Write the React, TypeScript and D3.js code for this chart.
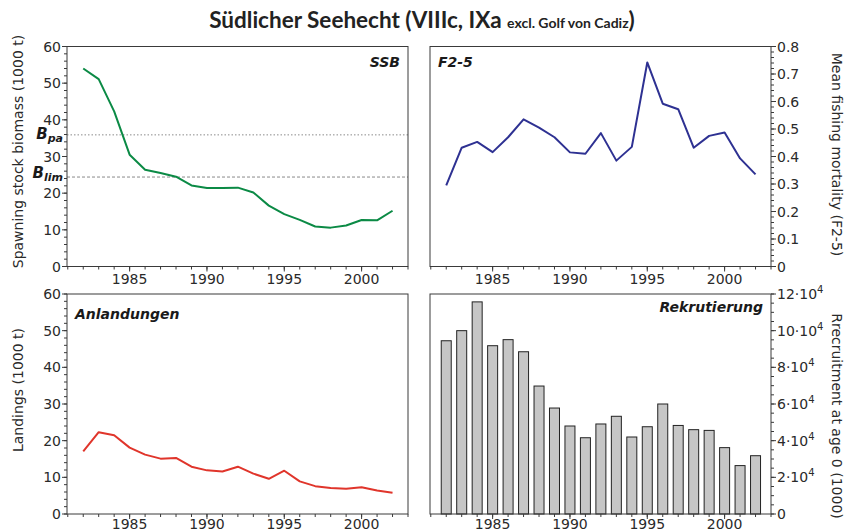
import React from "react";
import * as d3 from "d3";

// values
const years = [1982, 1983, 1984, 1985, 1986, 1987, 1988, 1989, 1990, 1991, 1992, 1993, 1994, 1995, 1996, 1997, 1998, 1999, 2000, 2001, 2002];
const ssb = [54.0, 51.1, 42.3, 30.5, 26.4, 25.5, 24.5, 22.1, 21.4, 21.4, 21.5, 20.2, 16.6, 14.3, 12.7, 10.9, 10.6, 11.2, 12.7, 12.6, 15.2];
const fbar = [0.295, 0.432, 0.453, 0.416, 0.47, 0.535, 0.505, 0.47, 0.415, 0.41, 0.485, 0.385, 0.435, 0.742, 0.592, 0.572, 0.432, 0.475, 0.487, 0.393, 0.335];
const landings = [17.1, 22.3, 21.5, 18.1, 16.2, 15.1, 15.3, 12.9, 11.9, 11.6, 12.9, 11.0, 9.6, 11.8, 8.9, 7.6, 7.1, 6.9, 7.3, 6.4, 5.8];
const recruits = [94500, 100000, 115700, 91800, 95100, 88500, 69800, 57800, 48000, 41600, 49100, 53300, 42000, 47600, 60000, 48300, 46000, 45600, 36200, 26400, 31800];

const refPoints = [
  { sub: "pa", value: 35.9, dash: "1.5,2", lift: 4 },
  { sub: "lim", value: 24.4, dash: "3,2", lift: 1 },
];

const yearTicks = [1985, 1990, 1995, 2000];
const tonneTicks = [0, 10, 20, 30, 40, 50, 60];
const fTicks = [0, 0.1, 0.2, 0.3, 0.4, 0.5, 0.6, 0.7, 0.8];
const recTicks = [0, 20000, 40000, 60000, 80000, 100000, 120000];

const PW = 341;
const PH = 220;
const FONT = "'DejaVu Sans', Verdana, sans-serif";
const AX = "#3a3a3a";
const TXT = "#2a2a2a";

const x = d3.scaleLinear().domain([1980.95, 2003]).range([0, PW]);
const yearMinor = d3.range(1981, 2004);

type AxisProps = { y: d3.ScaleLinear<number, number>; side: "left" | "right"; major: number[]; minorCount: number; fmt: (v: number) => React.ReactNode };

const YAxis = ({ y, side, major, minorCount, fmt }: AxisProps) => {
  const dir = side === "left" ? -1 : 1;
  const x0 = side === "left" ? 0 : PW;
  return (
    <g>
      {y.ticks(minorCount).map((t) => (
        <line key={"m" + t} x1={x0} x2={x0 + dir * 3} y1={y(t)} y2={y(t)} stroke={AX} />
      ))}
      {major.map((t) => (
        <g key={t}>
          <line x1={x0} x2={x0 + dir * 5} y1={y(t)} y2={y(t)} stroke={AX} />
          <text x={x0 + dir * 6} y={y(t)} dy="0.36em" textAnchor={side === "left" ? "end" : "start"} fontSize={14} fill={TXT}>
            {fmt(t)}
          </text>
        </g>
      ))}
    </g>
  );
};

const XAxis = ({ labelY = 17 }: { labelY?: number }) => (
  <g transform={`translate(0,${PH})`}>
    {yearMinor.map((t) => (
      <line key={"m" + t} x1={x(t)} x2={x(t)} y1={0} y2={3} stroke={AX} />
    ))}
    {yearTicks.map((t) => (
      <g key={t}>
        <line x1={x(t)} x2={x(t)} y1={0} y2={5} stroke={AX} />
        <text x={x(t)} y={labelY} textAnchor="middle" fontSize={14} fill={TXT}>
          {t}
        </text>
      </g>
    ))}
  </g>
);

const Frame = () => <rect x={0} y={0} width={PW} height={PH} fill="none" stroke={AX} strokeWidth={1} />;

const PanelTitle = ({ text, right, y = 20 }: { text: string; right?: boolean; y?: number }) => (
  <text x={right ? PW - 8 : 8} y={y} textAnchor={right ? "end" : "start"} fontSize={14} fontWeight="bold" fontStyle="italic" fill="#1a1a1a">
    {text}
  </text>
);

const SideLabel = ({ text, side, cy }: { text: string; side: "left" | "right"; cy: number }) =>
  side === "left" ? (
    <text transform={`translate(-44,${cy}) rotate(-90)`} textAnchor="middle" fontSize={14} fill={TXT}>
      {text}
    </text>
  ) : (
    <text transform={`translate(${PW + 61},${cy}) rotate(90)`} textAnchor="middle" fontSize={14} fill={TXT}>
      {text}
    </text>
  );

const App = () => {
  const ySsb = d3.scaleLinear().domain([0, 60]).range([PH, 0]);
  const yF = d3.scaleLinear().domain([0, 0.8]).range([PH, 0]);
  const yLand = d3.scaleLinear().domain([0, 60]).range([PH, 0]);
  const yRec = d3.scaleLinear().domain([0, 120000]).range([PH, 0]);

  const lineOf = (y: d3.ScaleLinear<number, number>) =>
    d3.line<number>().x((_, i) => x(years[i])).y((d) => y(d));

  const recFmt = (v: number) =>
    v === 0 ? (
      "0"
    ) : (
      <>
        {v / 10000}·10<tspan dy="-6" fontSize={10}>4</tspan>
      </>
    );

  return (
    <svg width={847} height={532} style={{ position: "absolute", left: 0, top: 0, background: "#fff" }} fontFamily={FONT}>
      <text x={422} y={28} textAnchor="middle" fontFamily="Lato, 'Open Sans', sans-serif" fontWeight="bold" fill="#222">
        <tspan fontSize={22.5}>Südlicher Seehecht (VIIIc, IXa </tspan>
        <tspan fontSize={14}>excl. Golf von Cadiz</tspan>
        <tspan fontSize={22.5}>)</tspan>
      </text>

      {/* SSB */}
      <g transform="translate(67,46.5)">
        {refPoints.map((r) => (
          <g key={r.sub}>
            <line x1={0} x2={PW} y1={ySsb(r.value)} y2={ySsb(r.value)} stroke="#8a8a8a" strokeDasharray={r.dash} />
            <text x={-4} y={ySsb(r.value) + r.lift} textAnchor="end" fontSize={15} fontWeight="bold" fontStyle="italic" fill="#1a1a1a">
              B<tspan dy={3} fontSize={11}>{r.sub}</tspan>
            </text>
          </g>
        ))}
        <path d={lineOf(ySsb)(ssb) ?? ""} fill="none" stroke="#0b8a45" strokeWidth={2} strokeLinejoin="round" />
        <Frame />
        <YAxis y={ySsb} side="left" major={tonneTicks} minorCount={30} fmt={(v) => String(v)} />
        <XAxis />
        <PanelTitle text="SSB" right />
        <SideLabel text="Spawning stock biomass (1000 t)" side="left" cy={105} />
      </g>

      {/* F2-5 */}
      <g transform="translate(430,46.5)">
        <path d={lineOf(yF)(fbar) ?? ""} fill="none" stroke="#2e3192" strokeWidth={2} strokeLinejoin="round" />
        <Frame />
        <YAxis y={yF} side="right" major={fTicks} minorCount={40} fmt={(v) => (v === 0 ? "0" : d3.format(".1f")(v))} />
        <XAxis />
        <PanelTitle text="F2-5" />
        <SideLabel text="Mean fishing mortality (F2-5)" side="right" cy={108} />
      </g>

      {/* Landings */}
      <g transform="translate(67,294)">
        <path d={lineOf(yLand)(landings) ?? ""} fill="none" stroke="#e0352b" strokeWidth={2} strokeLinejoin="round" />
        <Frame />
        <YAxis y={yLand} side="left" major={tonneTicks} minorCount={30} fmt={(v) => String(v)} />
        <XAxis labelY={15} />
        <PanelTitle text="Anlandungen" y={25} />
        <SideLabel text="Landings (1000 t)" side="left" cy={96} />
      </g>

      {/* Recruitment */}
      <g transform="translate(430,294)">
        {recruits.map((v, i) => (
          <rect key={years[i]} x={x(years[i]) - 5} y={yRec(v)} width={10} height={PH - yRec(v)} fill="#c6c6c6" stroke="#222" strokeWidth={1} />
        ))}
        <Frame />
        <YAxis y={yRec} side="right" major={recTicks} minorCount={24} fmt={recFmt} />
        <XAxis labelY={15} />
        <PanelTitle text="Rekrutierung" right y={18} />
        <SideLabel text="Rrecruitment at age 0 (1000)" side="right" cy={122} />
      </g>
    </svg>
  );
};

export default App;
